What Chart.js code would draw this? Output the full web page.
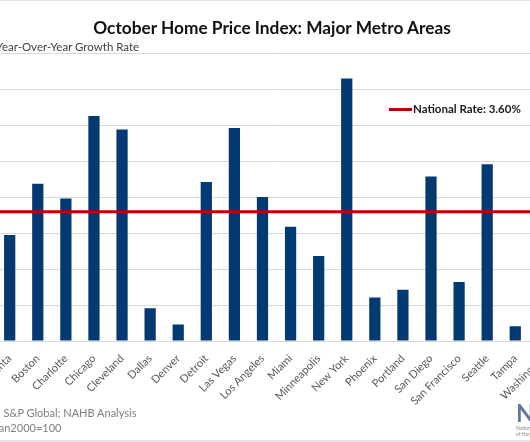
<!DOCTYPE html>
<html><head><meta charset="utf-8">
<script src="https://cdn.jsdelivr.net/npm/chart.js@4/dist/chart.umd.min.js"></script>
<style>
html,body{margin:0;padding:0;background:#fff;}
#wrap{position:relative;width:530px;height:442px;overflow:hidden;background:#fff;font-family:Lato,"Open Sans",sans-serif;}
#cv{position:absolute;left:-60px;top:0;}
.t{position:absolute;white-space:nowrap;}
#title{left:0;width:544px;top:17px;text-align:center;font-weight:bold;font-size:17.3px;line-height:22px;color:#111;}
#sub{left:-4px;top:40px;font-size:11.5px;line-height:14px;color:#404040;}
#legend{left:389px;top:101px;font-weight:bold;font-size:11.5px;line-height:16px;color:#1a1a1a;}
#legend .sw{display:inline-block;width:23px;height:3px;background:#C00000;vertical-align:middle;margin-right:1px;position:relative;top:-1px;}
#src{left:-35px;top:405px;font-size:11px;line-height:15px;color:#7f7f7f;}
#logo{left:516px;top:401px;font-weight:bold;font-size:24px;line-height:24px;color:#66789a;}
#logo2{left:516px;top:425px;font-size:5px;line-height:6px;color:#8a8a8a;}
.hl{position:absolute;left:0;width:530px;background:#e4e4e4;}
</style></head>
<body>
<div id="wrap">
<canvas id="cv" width="640" height="442" style="width:640px;height:442px"></canvas>
<div class="hl" style="top:0;height:1px"></div>
<div class="hl" style="top:440px;height:2px"></div>
<div id="title" class="t"></div>
<div id="sub" class="t"></div>
<div id="legend" class="t"><span class="sw"></span><span id="legtxt"></span></div>
<div id="src" class="t"></div>
<div id="logo" class="t">NAHB</div>
<div id="logo2" class="t">National Association<br>of Home Builders</div>
</div>
<script>
const chartTitle = "October Home Price Index: Major Metro Areas";
const subTitle = "Year-Over-Year Growth Rate";
const sourceLines = ["Source: S&P Global; NAHB Analysis", "Note: Jan2000=100"];
const metros = ["Atlanta","Boston","Charlotte","Chicago","Cleveland","Dallas","Denver","Detroit","Las Vegas","Los Angeles","Miami","Minneapolis","New York","Phoenix","Portland","San Diego","San Francisco","Seattle","Tampa","Washington"];
const growthRate = [2.95,4.38,3.97,6.27,5.89,0.91,0.46,4.43,5.93,4.01,3.18,2.37,7.31,1.21,1.43,4.58,1.64,4.92,0.41,1.90];
const nationalRate = 3.60;
const nationalLabel = "National Rate: 3.60%";
const yTicks = [0,1,2,3,4,5,6,7,8];

document.getElementById('title').textContent = chartTitle;
document.getElementById('sub').textContent = subTitle;
document.getElementById('legtxt').textContent = nationalLabel;
document.getElementById('src').innerHTML = sourceLines.map(s => s.replace(/&/g,'&amp;')).join('<br>');

const natLine = {
  id: 'natLine',
  afterDatasetsDraw(chart) {
    const {ctx, chartArea: a, scales: {y}} = chart;
    const py = y.getPixelForValue(nationalRate);
    ctx.save();
    ctx.strokeStyle = '#C00000';
    ctx.lineWidth = 3;
    ctx.beginPath();
    ctx.moveTo(a.left, py);
    ctx.lineTo(a.right, py);
    ctx.stroke();
    ctx.restore();
  }
};

new Chart(document.getElementById('cv'), {
  type: 'bar',
  data: {
    labels: metros,
    datasets: [{
      label: 'YoY Growth',
      data: growthRate,
      backgroundColor: '#043A72',
      borderWidth: 0,
      categoryPercentage: 1,
      barPercentage: 0.4
    }]
  },
  options: {
    responsive: false,
    animation: false,
    layout: {padding: {top: 53.8, bottom: 0, left: 0, right: 22.6}},
    plugins: {legend: {display: false}, tooltip: {enabled: false}},
    scales: {
      y: {
        min: yTicks[0], max: yTicks[yTicks.length-1],
        afterFit: s => { s.width = 55.65; },
        afterBuildTicks: s => { s.ticks = yTicks.map(v => ({value: v})); },
        ticks: {callback: v => v + '%', color: '#595959', font: {family: 'Lato', size: 11}},
        grid: {color: '#d9d9d9', lineWidth: 1, drawTicks: false},
        border: {display: false}
      },
      x: {
        afterFit: s => { s.height = 101; },
        grid: {display: false},
        border: {color: '#d9d9d9'},
        ticks: {minRotation: 45, maxRotation: 45, autoSkip: false, color: '#595959', font: {family: 'Lato', size: 11}}
      }
    }
  },
  plugins: [natLine]
});
</script>
</body></html>
